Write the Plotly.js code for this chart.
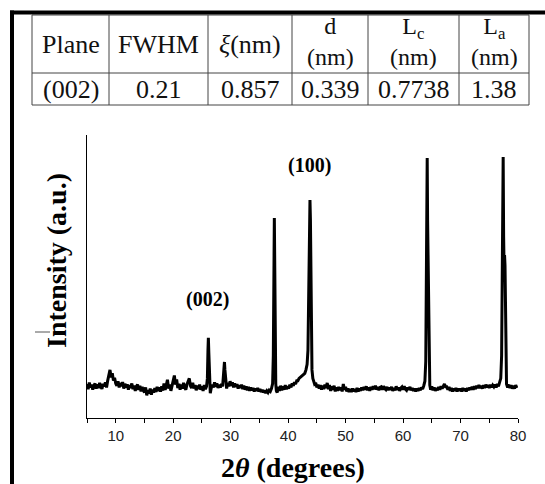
<!DOCTYPE html>
<html>
<head>
<meta charset="utf-8">
<script src="https://cdn.plot.ly/plotly-3.0.1.min.js"></script>
<style>html,body{margin:0;padding:0;background:#fff;}#chart{width:545px;height:484px;}</style>
</head>
<body>
<div id="chart"></div>
<script>
// ---- Table data ----
var tableHeaders = ["Plane", "FWHM", "<i>ξ</i>(nm)", "d<br>(nm)", "L<sub>c</sub><br>(nm)", "L<sub>a</sub><br>(nm)"];
var tableRow = ["(002)", "0.21", "0.857", "0.339", "0.7738", "1.38"];

// ---- XRD pattern (2θ in degrees, intensity in a.u.) ----
var twoTheta = [
 5.0,5.2,5.4,5.6,5.8,6.0,6.2,6.4,6.6,6.8,7.0,7.2,7.4,7.6,7.8,8.0,8.2,8.4,8.6,8.8,
 9.0,9.2,9.4,9.6,9.8,10.0,10.2,10.4,10.6,10.8,11.0,11.2,11.4,11.6,11.8,12.0,12.2,12.4,12.6,12.8,
 13.0,13.2,13.4,13.6,13.8,14.0,14.2,14.4,14.6,14.8,15.0,15.2,15.4,15.6,15.8,16.0,16.2,16.4,16.6,16.8,
 17.0,17.2,17.4,17.6,17.8,18.0,18.2,18.4,18.6,18.8,19.0,19.2,19.4,19.6,19.8,20.0,20.2,20.4,20.6,20.8,
 21.0,21.2,21.4,21.6,21.8,22.0,22.2,22.4,22.6,22.8,23.0,23.2,23.4,23.6,23.8,24.0,24.2,24.4,24.6,24.8,
 25.0,25.2,25.4,25.6,25.8,25.95,26.05,26.12,26.2,26.3,26.45,26.6,26.8,27.0,27.2,27.4,27.6,27.8,28.0,28.2,
 28.4,28.6,28.75,28.85,28.92,29.0,29.15,29.3,29.5,29.7,29.9,30.1,30.3,30.5,30.7,30.9,31.1,31.3,31.5,31.7,
 31.9,32.1,32.3,32.5,32.7,32.9,33.1,33.3,33.5,33.7,33.9,34.1,34.3,34.5,34.7,34.9,35.1,35.3,35.5,35.7,
 35.9,36.1,36.3,36.5,36.7,36.9,37.1,37.3,37.42,37.5,37.6,37.68,37.76,37.85,37.95,38.1,38.3,38.5,38.7,38.9,
 39.1,39.3,39.5,39.7,39.9,40.1,40.3,40.5,40.7,40.9,41.1,41.3,41.5,41.7,41.9,42.1,42.3,42.5,42.7,42.9,
 43.1,43.3,43.45,43.6,43.72,43.8,43.88,43.96,44.05,44.15,44.3,44.45,44.6,44.8,45.0,45.2,45.4,45.6,45.8,46.0,
 46.2,46.4,46.6,46.8,47.0,47.2,47.4,47.6,47.8,48.0,48.2,48.4,48.6,48.8,49.0,49.2,49.4,49.6,49.8,50.0,
 50.2,50.4,50.6,50.8,51.0,51.2,51.4,51.6,51.8,52.0,52.2,52.4,52.6,52.8,53.0,53.2,53.4,53.6,53.8,54.0,
 54.2,54.4,54.6,54.8,55.0,55.2,55.4,55.6,55.8,56.0,56.2,56.4,56.6,56.8,57.0,57.2,57.4,57.6,57.8,58.0,
 58.2,58.4,58.6,58.8,59.0,59.2,59.4,59.6,59.8,60.0,60.2,60.4,60.6,60.8,61.0,61.2,61.4,61.6,61.8,62.0,
 62.2,62.4,62.6,62.8,63.0,63.2,63.4,63.6,63.8,63.95,64.05,64.15,64.2,64.27,64.33,64.4,64.48,64.56,64.65,64.8,
 65.0,65.2,65.4,65.6,65.8,66.0,66.2,66.4,66.6,66.8,67.0,67.2,67.4,67.6,67.8,68.0,68.2,68.4,68.6,68.8,
 69.0,69.2,69.4,69.6,69.8,70.0,70.2,70.4,70.6,70.8,71.0,71.2,71.4,71.6,71.8,72.0,72.2,72.4,72.6,72.8,
 73.0,73.2,73.4,73.6,73.8,74.0,74.2,74.4,74.6,74.8,75.0,75.2,75.4,75.6,75.8,76.0,76.2,76.4,76.6,76.8,
 77.0,77.15,77.25,77.35,77.42,77.5,77.58,77.66,77.74,77.82,77.9,78.0,78.2,78.4,78.6,78.8,79.0,79.2,79.4,79.6,
 79.8
];
var intensity = [
 120,102,125,108,118,100,115,122,104,119,106,124,110,103,121,112,126,108,132,150,
 170,144,158,132,142,122,114,130,108,124,112,127,104,121,108,119,100,116,106,122,
 102,115,96,112,118,99,114,94,110,98,90,108,80,99,86,104,82,100,90,106,
 92,110,95,108,93,112,97,122,99,116,135,104,118,96,114,126,150,118,136,106,
 121,100,118,104,124,108,100,119,128,140,114,106,124,104,116,98,114,102,118,100,
 112,96,116,102,112,140,240,283,230,130,88,104,118,108,126,110,122,106,118,108,
 120,112,150,190,198,170,118,104,124,112,130,114,126,108,122,110,120,104,116,106,
 118,102,114,100,112,98,110,96,108,98,106,94,104,96,106,94,102,92,100,90,
 98,88,96,90,98,94,104,122,220,480,707,520,220,120,96,90,110,96,114,98,
 112,100,116,102,112,104,118,108,122,114,126,120,132,132,140,144,146,150,156,158,
 170,190,240,420,680,770,700,480,260,170,140,128,120,124,108,118,104,116,100,114,
 102,118,106,124,102,116,96,112,100,114,94,108,96,110,98,108,94,120,100,110,
 94,104,92,102,92,104,94,102,92,106,94,104,96,108,98,110,100,112,98,108,
 96,110,100,112,102,114,100,110,98,108,110,100,112,104,100,110,98,108,100,110,
 96,106,98,112,100,108,96,106,110,100,112,102,98,108,100,110,98,106,96,104,
 94,104,96,106,98,108,102,114,130,200,500,900,919,700,560,548,380,180,116,100,
 112,98,108,96,106,98,110,100,112,104,116,120,110,110,100,110,96,106,94,104,
 96,106,94,104,96,104,94,106,96,104,94,106,98,108,100,110,100,112,102,114,
 106,116,106,114,104,116,106,118,108,116,106,118,108,116,110,118,108,120,112,124,
 140,220,520,900,922,640,530,576,540,300,160,120,108,118,106,116,104,114,104,116,
 106
];

// x-axis labelled ticks (minor ticks every 5°)
var xTickVals = [10,20,30,40,50,60,70,80];
var xTickText = ["10","20","30","40","50","60","70","80"];

// peak labels
var peakLabels = ["(002)", "(100)"];
var peakLabelX = [25.9, 43.65];
var peakLabelY = [417, 894];

var W = 545, H = 484;
function px(x){ return x / W; }
function py(y){ return 1 - y / H; }

var serif = "'Liberation Serif', 'Times New Roman', serif";

var trace = {
  x: twoTheta, y: intensity, type: "scatter", mode: "lines",
  line: {color: "#000", width: 3}, hoverinfo: "skip"
};

// table geometry
var colEdges = [32, 109, 208, 292, 368, 459, 529];
var tTop = 15, tMid = 73, tBot = 105;
var shapes = [];
var annotations = [];
var tcol = "#444";
[tTop, tMid, tBot].forEach(function(y){
  shapes.push({type:"line", xref:"paper", yref:"paper", x0:px(colEdges[0]), x1:px(colEdges[6]), y0:py(y), y1:py(y), line:{color:tcol, width:1}});
});
colEdges.forEach(function(x){
  shapes.push({type:"line", xref:"paper", yref:"paper", x0:px(x), x1:px(x), y0:py(tTop), y1:py(tBot), line:{color:tcol, width:1}});
});
// outer thick frame
shapes.push({type:"line", xref:"paper", yref:"paper", x0:px(10), x1:px(545), y0:py(12.5), y1:py(12.5), line:{color:"#000", width:4}});
shapes.push({type:"line", xref:"paper", yref:"paper", x0:px(12), x1:px(12), y0:py(10.5), y1:py(484), line:{color:"#000", width:4}});
// small stray mark near y title
shapes.push({type:"line", xref:"paper", yref:"paper", x0:px(35), x1:px(50), y0:py(332), y1:py(332), line:{color:"#555", width:1}});

for (var i = 0; i < 6; i++) {
  var cx = (colEdges[i] + colEdges[i+1]) / 2;
  var twoLine = tableHeaders[i].indexOf("<br>") >= 0;
  annotations.push({xref:"paper", yref:"paper", x:px(cx), y:py(twoLine ? 41 : 44), text:tableHeaders[i], showarrow:false, xanchor:"center", yanchor:"middle", font:{family:serif, size:(twoLine ? 24 : 26), color:"#111"}});
  annotations.push({xref:"paper", yref:"paper", x:px(cx), y:py(89), text:tableRow[i], showarrow:false, xanchor:"center", yanchor:"middle", font:{family:serif, size:26, color:"#111"}});
}

// peak labels
for (var j = 0; j < peakLabels.length; j++) {
  annotations.push({xref:"x", yref:"y", x:peakLabelX[j], y:peakLabelY[j], text:"<b>"+peakLabels[j]+"</b>", showarrow:false, xanchor:"center", yanchor:"middle", font:{family:serif, size:20, color:"#000"}});
}

// axis titles as positioned annotations
annotations.push({xref:"paper", yref:"paper", x:px(293), y:py(467), text:"<b>2<i>θ</i> (degrees)</b>", showarrow:false, xanchor:"center", yanchor:"middle", font:{family:serif, size:28, color:"#000"}});
annotations.push({xref:"paper", yref:"paper", x:px(56), y:py(261), text:"<b>Intensity (a.u.)</b>", showarrow:false, textangle:-90, xanchor:"center", yanchor:"middle", font:{family:serif, size:28, color:"#000"}});

var layout = {
  width: W, height: H,
  margin: {l:0, r:0, t:0, b:0},
  paper_bgcolor: "#fff", plot_bgcolor: "#fff",
  showlegend: false,
  xaxis: {
    domain: [87/W, 518/W], range: [5, 80],
    tickvals: xTickVals, ticktext: xTickText,
    ticks: "outside", ticklen: 4, tickwidth: 1, tickcolor: "#000",
    minor: {tick0: 5, dtick: 5, ticks: "outside", ticklen: 4, tickwidth: 1, tickcolor: "#000", showgrid: false},
    showline: true, linecolor: "#000", linewidth: 1,
    showgrid: false, zeroline: false,
    tickfont: {family: "'Liberation Sans', Arial, sans-serif", size: 15, color: "#222"}
  },
  yaxis: {
    domain: [1 - 418/H, 1 - 135/H], range: [0, 1000],
    showline: true, linecolor: "#000", linewidth: 1,
    showticklabels: false, ticks: "", showgrid: false, zeroline: false
  },
  shapes: shapes,
  annotations: annotations
};

Plotly.newPlot("chart", [trace], layout, {staticPlot: true, displayModeBar: false});
</script>
</body>
</html>
